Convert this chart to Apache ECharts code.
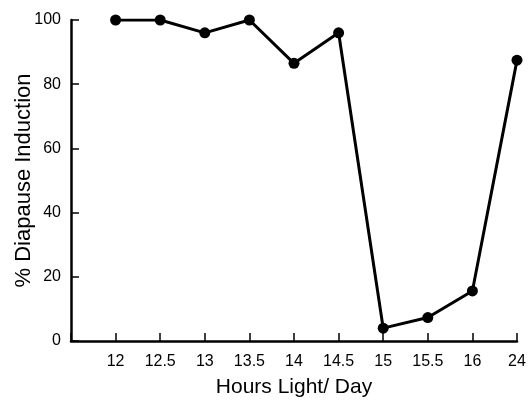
<!DOCTYPE html>
<html>
<head>
    <meta charset="UTF-8">
    <title>Diapause Induction</title>
    <style>
        html, body { margin: 0; padding: 0; background: #fff; }
        #chart { width: 528px; height: 400px; }
    </style>
    <script src="https://cdn.jsdelivr.net/npm/echarts@6/dist/echarts.min.js"></script>
</head>
<body>
    <div id="chart"></div>
<script>
    // first slot is empty: the axis starts one step before 12
    var hours = ['', '12', '12.5', '13', '13.5', '14', '14.5', '15', '15.5', '16', '24'];
    var induction = [null, 100, 100, 96, 100, 86.5, 96, 4, 7.3, 15.6, 87.5];
    var yTicks = [0, 20, 40, 60, 80, 100];

    var chart = echarts.init(document.getElementById('chart'));
    var font = 'Liberation Sans, Arial, sans-serif';
    var option = {
        backgroundColor: '#fff',
        animation: false,
        grid: { left: 71, right: 11, top: 20, bottom: 59, containLabel: false, outerBoundsMode: 'none' },
        xAxis: {
            type: 'category',
            data: hours,
            boundaryGap: false,
            name: 'Hours Light/ Day',
            nameLocation: 'middle',
            nameGap: 36,
            nameMoveOverlap: false,
            nameTextStyle: { fontSize: 21, color: '#000', fontFamily: font },
            axisLine: { lineStyle: { color: '#000', width: 2.5 } },
            axisTick: { inside: true, length: 8, lineStyle: { color: '#000', width: 1.5 } },
            axisLabel: { fontSize: 16, color: '#000', fontFamily: font, margin: 13, interval: 0 },
            splitLine: { show: false }
        },
        yAxis: {
            type: 'value',
            min: yTicks[0],
            max: yTicks[yTicks.length - 1],
            interval: 20,
            name: '% Diapause Induction',
            nameLocation: 'middle',
            nameGap: 36,
            nameMoveOverlap: false,
            nameTextStyle: { fontSize: 22, color: '#000', fontFamily: font },
            axisLine: { show: true, lineStyle: { color: '#000', width: 2.5 } },
            axisTick: { show: true, inside: true, length: 8, lineStyle: { color: '#000', width: 1.5 } },
            axisLabel: { fontSize: 16, color: '#000', fontFamily: font, margin: 10 },
            splitLine: { show: false }
        },
        series: [{
            type: 'line',
            data: induction,
            connectNulls: false,
            symbol: 'circle',
            symbolSize: 11,
            itemStyle: { color: '#000' },
            lineStyle: { color: '#000', width: 3 }
        }]
    };
    chart.setOption(option);
</script>
</body>
</html>
